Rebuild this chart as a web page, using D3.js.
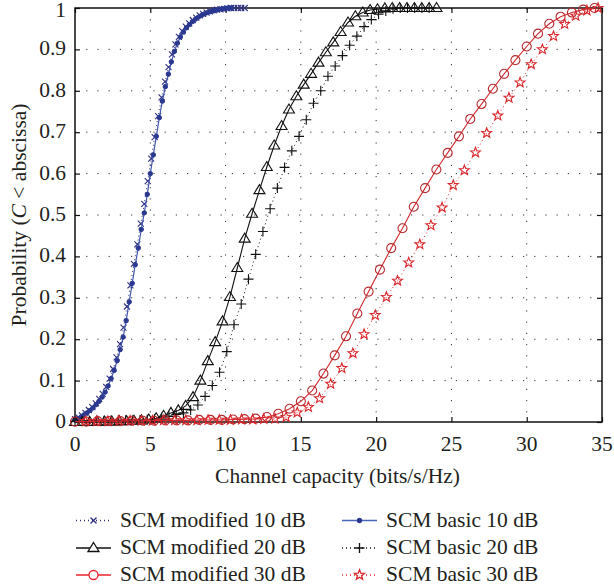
<!DOCTYPE html>
<html><head><meta charset="utf-8">
<script src="https://cdn.jsdelivr.net/npm/d3@7"></script>
<style>
body{margin:0;background:#fff}
#wrap{position:relative;width:614px;height:588px;overflow:hidden}
svg{position:absolute;left:0;top:0;display:block}
.lbl{position:absolute;font-family:"Liberation Serif",serif;font-size:21.5px;line-height:1;color:#231f20;white-space:nowrap}
</style>
</head><body><div id="wrap"><svg id="c" width="614" height="588"></svg></div>
<script>
// ---------- data ----------
const xTicks = [0,5,10,15,20,25,30,35];
const yTicks = [0,0.1,0.2,0.3,0.4,0.5,0.6,0.7,0.8,0.9,1];
const yTickLabels = ["0","0.1","0.2","0.3","0.4","0.5","0.6","0.7","0.8","0.9","1"];
const seriesNames = ["SCM modified 10 dB","SCM basic 10 dB","SCM modified 20 dB","SCM basic 20 dB","SCM modified 30 dB","SCM basic 30 dB"];

const xMod10 = [0,0.23,0.46,0.69,0.92,1.15,1.38,1.61,1.84,2.07,2.3,2.53,2.76,2.99,3.22,3.45,3.68,3.91,4.14,4.37,4.6,4.83,5.06,5.29,5.52,5.75,5.98,6.21,6.44,6.67,6.9,7.13,7.36,7.59,7.82,8.05,8.28,8.51,8.74,8.97,9.2,9.43,9.66,9.89,10.12,10.35,10.58,10.81,11.04,11.27];
const yMod10 = [0.007,0.011,0.016,0.022,0.029,0.036,0.045,0.056,0.068,0.085,0.105,0.128,0.156,0.188,0.228,0.279,0.33,0.382,0.429,0.479,0.527,0.582,0.636,0.688,0.739,0.784,0.822,0.857,0.888,0.912,0.93,0.944,0.955,0.963,0.971,0.977,0.982,0.986,0.989,0.992,0.994,0.996,0.997,0.998,0.999,1,1,1,1,1];

const xBas10 = [0,0.2,0.4,0.6,0.8,1,1.2,1.4,1.6,1.8,2,2.2,2.4,2.6,2.8,3,3.2,3.4,3.6,3.8,4,4.2,4.4,4.6,4.8,5,5.2,5.4,5.6,5.8,6,6.2,6.4,6.6,6.8,7,7.2,7.4,7.6,7.8,8,8.2,8.4,8.6,8.8,9,9.2,9.4,9.6,9.8,10,10.2,10.4];
const yBas10 = [0.005,0.008,0.012,0.017,0.022,0.028,0.034,0.042,0.05,0.06,0.072,0.087,0.105,0.125,0.148,0.175,0.205,0.245,0.29,0.335,0.38,0.42,0.465,0.505,0.55,0.6,0.645,0.69,0.735,0.775,0.81,0.84,0.87,0.895,0.915,0.93,0.942,0.952,0.96,0.967,0.973,0.978,0.982,0.986,0.989,0.991,0.993,0.995,0.997,0.998,0.999,1,1];

const xMod20 = [0,0.49,0.98,1.47,1.96,2.45,2.94,3.43,3.92,4.41,4.9,5.39,5.88,6.37,6.86,7.35,7.84,8.33,8.82,9.31,9.8,10.29,10.78,11.27,11.76,12.25,12.74,13.23,13.72,14.21,14.7,15.19,15.68,16.17,16.66,17.15,17.64,18.13,18.62,19.11,19.6,20.09,20.58,21.07,21.56,22.05,22.54,23.03,23.52,24.01];
const yMod20 = [0,0,0,0.001,0.001,0.001,0.002,0.002,0.003,0.004,0.006,0.009,0.015,0.022,0.028,0.039,0.06,0.1,0.147,0.193,0.243,0.302,0.372,0.443,0.503,0.56,0.616,0.668,0.715,0.755,0.787,0.815,0.841,0.868,0.893,0.917,0.942,0.965,0.98,0.989,0.995,0.997,0.999,1,1,1,1,1,1,1];

const xBas20 = [0,0.48,0.96,1.44,1.92,2.4,2.88,3.36,3.84,4.32,4.8,5.28,5.76,6.24,6.72,7.2,7.68,8.16,8.64,9.12,9.6,10.08,10.56,11.04,11.52,12,12.48,12.96,13.44,13.92,14.4,14.88,15.36,15.84,16.32,16.8,17.28,17.76,18.24,18.72,19.2,19.68,20.16,20.64,21.12,21.6,22.08,22.56,23.04,23.52];
const yBas20 = [0.002,0.002,0.003,0.003,0.003,0.004,0.004,0.004,0.005,0.005,0.006,0.007,0.01,0.014,0.018,0.022,0.029,0.041,0.062,0.088,0.12,0.17,0.235,0.285,0.345,0.405,0.46,0.515,0.565,0.615,0.655,0.69,0.73,0.77,0.8,0.835,0.86,0.885,0.91,0.932,0.955,0.972,0.985,0.993,0.998,1,1,1,1,1];

const xMod30 = [0,0.75,1.5,2.25,3,3.75,4.5,5.25,6,6.75,7.5,8.25,9,9.75,10.5,11.25,12,12.75,13.5,14.25,15,15.75,16.5,17.25,18,18.75,19.5,20.25,21,21.75,22.5,23.25,24,24.75,25.5,26.25,27,27.75,28.5,29.25,30,30.75,31.5,32.25,33,33.75,34.5];
const yMod30 = [0.001,0.001,0.002,0.002,0.002,0.003,0.003,0.003,0.004,0.004,0.004,0.005,0.005,0.005,0.006,0.007,0.008,0.012,0.02,0.032,0.05,0.076,0.117,0.161,0.207,0.262,0.315,0.368,0.42,0.468,0.52,0.565,0.61,0.65,0.69,0.732,0.768,0.805,0.841,0.874,0.907,0.938,0.962,0.979,0.989,0.996,1];

const xBas30 = [0.7,1.44,2.18,2.92,3.66,4.4,5.14,5.88,6.62,7.36,8.1,8.84,9.58,10.32,11.06,11.8,12.54,13.28,14.02,14.76,15.5,16.24,16.98,17.72,18.46,19.2,19.94,20.68,21.42,22.16,22.9,23.64,24.38,25.12,25.86,26.6,27.34,28.08,28.82,29.56,30.3,31.04,31.78,32.52,33.26,34,34.74];
const yBas30 = [0.002,0.002,0.002,0.003,0.003,0.003,0.003,0.004,0.004,0.004,0.004,0.005,0.005,0.005,0.006,0.006,0.007,0.008,0.012,0.023,0.036,0.057,0.092,0.13,0.166,0.212,0.258,0.302,0.341,0.385,0.429,0.475,0.518,0.572,0.608,0.651,0.698,0.74,0.783,0.82,0.864,0.9,0.932,0.961,0.981,0.994,1];

// ---------- layout ----------
const svg = d3.select("#c");
const wrap = d3.select("#wrap");
const L = 75, R = 602, T = 8, B = 422;
const x = d3.scaleLinear().domain([0,35]).range([L,R]);
const y = d3.scaleLinear().domain([0,1]).range([B,T]);

function label(txt, left, top, tf){
  return wrap.append("div").attr("class","lbl")
    .style("left",left+"px").style("top",top+"px").style("transform",tf).text(txt);
}

// grid
const g = svg.append("g");
g.selectAll(".gx").data(xTicks.filter(v=>v>0&&v<35)).join("line")
  .attr("x1",d=>x(d)).attr("x2",d=>x(d)).attr("y1",T).attr("y2",B)
  .attr("stroke","#333").attr("stroke-width",1).attr("stroke-dasharray","1.2,10");
g.selectAll(".gy").data(yTicks.filter(v=>v>0&&v<1)).join("line")
  .attr("y1",d=>y(d)).attr("y2",d=>y(d)).attr("x1",L).attr("x2",R)
  .attr("stroke","#333").attr("stroke-width",1).attr("stroke-dasharray","1.2,10");

// axes (tick marks via d3 axes, labels as text placed with the same scales)
svg.append("g").attr("transform",`translate(0,${B})`)
  .call(d3.axisBottom(x).tickValues(xTicks).tickSizeInner(-5).tickSizeOuter(0).tickFormat(""));
svg.append("g").attr("transform",`translate(0,${T})`)
  .call(d3.axisTop(x).tickValues(xTicks).tickSizeInner(-5).tickSizeOuter(0).tickFormat(""));
svg.append("g").attr("transform",`translate(${L},0)`)
  .call(d3.axisLeft(y).tickValues(yTicks).tickSizeInner(-5).tickSizeOuter(0).tickFormat(""));
svg.append("g").attr("transform",`translate(${R},0)`)
  .call(d3.axisRight(y).tickValues(yTicks).tickSizeInner(-5).tickSizeOuter(0).tickFormat(""));
svg.selectAll(".domain").remove();
svg.selectAll(".tick line").attr("stroke","#111").attr("stroke-width",1.2);

xTicks.forEach(v=>label(d3.format("d")(v), x(v), 445, "translate(-50%,-50%)"));
yTicks.forEach((v,i)=>label(yTickLabels[i], 66, Math.max(y(v),11), "translate(-100%,-50%)"));

// frame
svg.append("rect").attr("x",L).attr("y",T).attr("width",R-L).attr("height",B-T)
  .attr("fill","none").attr("stroke","#111").attr("stroke-width",1.5);

// markers
function starPath(ro, ri){
  let p=[];
  for(let i=0;i<10;i++){const a=-Math.PI/2+i*Math.PI/5;const r=i%2?ri:ro;p.push([r*Math.cos(a),r*Math.sin(a)]);}
  return "M"+p.map(q=>q[0].toFixed(2)+","+q[1].toFixed(2)).join("L")+"Z";
}
const M = {
  x:{d:"M-3,-3L3,3M-3,3L3,-3", fill:"none"},
  dot:{d:d3.symbol(d3.symbolCircle,14)(), fill:"col"},
  tri:{d:"M0,-5.5L5.5,3.5L-5.5,3.5Z", fill:"none"},
  plus:{d:"M-5,0H5M0,-5V5", fill:"none"},
  circ:{d:d3.symbol(d3.symbolCircle,64)(), fill:"none"},
  star:{d:starPath(5.2,2.2), fill:"none"}
};
const series = [
  {name:seriesNames[0], xs:xMod10, ys:yMod10, line:"#2e3080", mk:"#2e3080", dash:"1,3", m:"x", lw:1},
  {name:seriesNames[1], xs:xBas10, ys:yBas10, line:"#4257ae", mk:"#2b3990", dash:null, m:"dot", lw:1.2},
  {name:seriesNames[2], xs:xMod20, ys:yMod20, line:"#111", mk:"#111", dash:null, m:"tri", lw:1.1},
  {name:seriesNames[3], xs:xBas20, ys:yBas20, line:"#111", mk:"#111", dash:"1,3", m:"plus", lw:1},
  {name:seriesNames[4], xs:xMod30, ys:yMod30, line:"#d02a2e", mk:"#b52a2e", dash:null, m:"circ", lw:1.1},
  {name:seriesNames[5], xs:xBas30, ys:yBas30, line:"#e02a2e", mk:"#d8262a", dash:"1,3", m:"star", lw:1}
];
const lineGen = d3.line().x(d=>x(d[0])).y(d=>y(d[1]));
series.forEach(s=>{
  const pts = s.xs.map((v,i)=>[v,s.ys[i]]);
  svg.append("path").datum(pts).attr("d",lineGen).attr("fill","none")
    .attr("stroke",s.line).attr("stroke-width",s.lw).attr("stroke-dasharray",s.dash);
  svg.append("g").selectAll("path").data(pts).join("path")
    .attr("transform",d=>`translate(${x(d[0])},${y(d[1])})`)
    .attr("d",M[s.m].d).attr("fill",M[s.m].fill==="col"?s.mk:"none")
    .attr("stroke",s.mk).attr("stroke-width",1.1);
});

// axis titles
label("Channel capacity (bits/s/Hz)", (L+R)/2-1, 477, "translate(-50%,-50%)");
const yt = wrap.append("div").attr("class","lbl")
  .style("left","20px").style("top",((T+B)/2)+"px")
  .style("transform","translate(-50%,-50%) rotate(-90deg)");
yt.append("span").text("Probability (");
yt.append("span").style("font-style","italic").text("C");
yt.append("span").text(" < abscissa)");

// legend
const legRows = [520.5, 548, 575];
const legCols = [{x0:76,x1:111,tx:120},{x0:342,x1:377,tx:386}];
series.forEach((s,i)=>{
  const r = Math.floor(i/2), c = i%2;
  const col = legCols[c], yy = legRows[r];
  const lc = (s.m==="circ") ? "#e8262c" : (s.m==="dot" ? "#4a66b8" : s.line);
  svg.append("line").attr("x1",col.x0).attr("x2",col.x1).attr("y1",yy).attr("y2",yy)
    .attr("stroke",lc).attr("stroke-width",1.3).attr("stroke-dasharray",s.dash);
  svg.append("path").attr("transform",`translate(${(col.x0+col.x1)/2},${yy})`)
    .attr("d",M[s.m].d).attr("fill",M[s.m].fill==="col"?s.mk:"#fff")
    .attr("stroke",s.m==="circ"?"#e8262c":s.mk).attr("stroke-width",1.3);
  label(s.name, col.tx, yy, "translate(0,-50%)");
});
</script></body></html>
